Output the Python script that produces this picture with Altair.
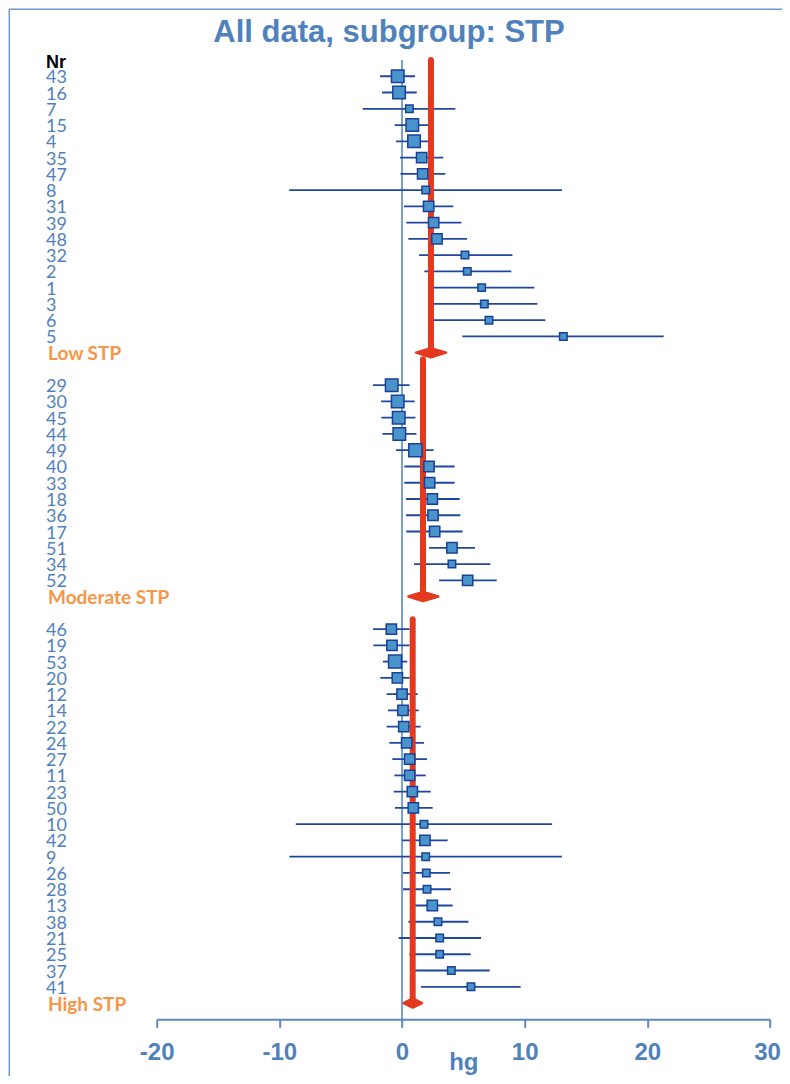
import altair as alt
import pandas as pd

# ---------------- data ----------------
title_text = "All data, subgroup: STP"
x_title = "hg"
header_text = "Nr"
group_names = ["Low STP", "Moderate STP", "High STP"]
x_ticks = [-20, -10, 0, 10, 20, 30]

low_nr = [43, 16, 7, 15, 4, 35, 47, 8, 31, 39, 48, 32, 2, 1, 3, 6, 5]
low_est = [-0.35, -0.24, 0.60, 0.84, 0.98, 1.60, 1.68, 1.93, 2.17, 2.58, 2.85, 5.13, 5.32, 6.49, 6.71, 7.09, 13.15]
low_lo = [-1.79, -1.63, -3.20, -0.60, -0.49, -0.16, -0.13, -9.20, 0.16, 0.35, 0.52, 1.39, 1.82, 2.19, 2.39, 2.50, 4.92]
low_hi = [1.06, 1.20, 4.35, 2.28, 2.45, 3.37, 3.53, 13.04, 4.18, 4.84, 5.30, 9.00, 8.91, 10.79, 11.03, 11.68, 21.33]
low_w = [2.8, 2.8, 1.0, 2.8, 2.8, 1.9, 1.9, 1.0, 1.9, 1.9, 1.9, 1.0, 1.0, 1.0, 1.0, 1.0, 1.0]

mod_nr = [29, 30, 45, 44, 49, 40, 33, 18, 36, 17, 51, 34, 52]
mod_est = [-0.84, -0.35, -0.27, -0.22, 1.09, 2.20, 2.25, 2.47, 2.53, 2.66, 4.07, 4.07, 5.35]
mod_lo = [-2.36, -1.71, -1.68, -1.60, -0.49, 0.19, 0.19, 0.33, 0.33, 0.35, 2.20, 0.98, 3.02]
mod_hi = [0.62, 1.03, 1.09, 1.17, 2.58, 4.29, 4.29, 4.70, 4.75, 4.94, 5.95, 7.20, 7.72]
mod_w = [2.8, 2.8, 2.8, 2.8, 3.1, 1.9, 1.9, 1.9, 1.9, 1.9, 1.9, 1.0, 1.9]

high_nr = [46, 19, 53, 20, 12, 14, 22, 24, 27, 11, 23, 50, 10, 42, 9, 26, 28, 13, 38, 21, 25, 37, 41]
high_est = [-0.87, -0.82, -0.57, -0.38, 0.00, 0.08, 0.14, 0.38, 0.62, 0.62, 0.84, 0.92, 1.79, 1.87, 1.93, 1.98, 2.04, 2.47, 2.93, 3.07, 3.07, 4.02, 5.62]
high_lo = [-2.36, -2.34, -1.55, -1.77, -1.25, -1.14, -1.25, -1.03, -0.79, -0.62, -0.68, -0.57, -8.66, 0.02, -9.18, 0.08, 0.08, 0.81, 0.52, -0.27, 0.60, 0.89, 1.55]
high_hi = [0.62, 0.62, 0.43, 0.62, 1.28, 1.36, 1.52, 1.79, 2.04, 1.93, 2.34, 2.50, 12.24, 3.72, 13.04, 3.91, 3.99, 4.13, 5.41, 6.44, 5.60, 7.15, 9.67]
high_w = [1.9, 1.9, 3.0, 1.9, 1.9, 1.9, 1.9, 1.9, 1.9, 1.9, 1.9, 1.9, 1.0, 1.9, 1.0, 1.0, 1.0, 1.9, 1.0, 1.0, 1.0, 1.0, 1.0]

pooled_est = [2.36, 1.71, 0.87]
pooled_lo = [1.14, 0.52, 0.14]
pooled_hi = [3.59, 2.96, 1.63]
pooled_line_top = [-1.0, 17.4, 33.4]

# ---------------- tables ----------------
groups = [
    (low_nr, low_est, low_lo, low_hi, low_w),
    (mod_nr, mod_est, mod_lo, mod_hi, mod_w),
    (high_nr, high_est, high_lo, high_hi, high_w),
]
studies, summaries, diamonds = [], [], []
r = 0
for gi, (nrs, est, lo, hi, w) in enumerate(groups):
    for n, e, l, h, ww in zip(nrs, est, lo, hi, w):
        studies.append(dict(nr=str(n), est=e, lo=l, hi=h, w=ww, row=r))
        r += 1
    summaries.append(dict(group=group_names[gi], est=pooled_est[gi], top=pooled_line_top[gi], row=r))
    half = 0.28
    diamonds += [
        dict(group=group_names[gi], x=pooled_lo[gi], y=r, y2=r),
        dict(group=group_names[gi], x=pooled_est[gi], y=r - half, y2=r + half),
        dict(group=group_names[gi], x=pooled_hi[gi], y=r, y2=r),
    ]
    r += 2

df = pd.DataFrame(studies)
ds = pd.DataFrame(summaries)
dd = pd.DataFrame(diamonds)
one = pd.DataFrame({"t": [title_text]})
hdr = pd.DataFrame({"t": [header_text], "row": [-1]})

# ---------------- styling ----------------
BLUE = "#4f81bd"
AXIS_BLUE = "#5b87c5"
CI = "#1f47a0"
BOX_FILL = "#4a94cc"
BOX_STROKE = "#1a3f96"
RED = "#e2391f"
ORANGE = "#f79646"

TOTAL_W = 774
TOTAL_H = 1068
PLOT_W = 613.3
PLOT_H = 959.3
LEFT = 148.7
TOP = 52.0

xs = alt.Scale(domain=[x_ticks[0], x_ticks[-1]], nice=False, zero=False)
ys = alt.Scale(domain=[-1, 58], nice=False, zero=False, reverse=True)

x_axis = alt.Axis(
    values=x_ticks, labelExpr="'' + datum.value", title=x_title, grid=False,
    domainColor=AXIS_BLUE, domainWidth=2, tickColor=AXIS_BLUE, tickWidth=2, tickSize=8,
    labelFont="Liberation Sans", labelFontWeight="bold", labelFontSize=24, labelColor=BLUE,
    labelPadding=13, labelFlush=False, labelOverlap=False,
    labelOffset={"condition": {"test": "datum.value === %d" % x_ticks[-1], "value": -3}, "value": 0},
    titleFont="Liberation Sans", titleFontWeight="bold", titleFontSize=24, titleColor=BLUE,
    titleBaseline="alphabetic", titleY=50,
)

base_y = alt.Y("row:Q", scale=ys, axis=None)

zero_line = alt.Chart(pd.DataFrame({"x": [0], "y": [-1], "y2": [58]})).mark_rule(
    color=BLUE, strokeWidth=1.5
).encode(x=alt.X("x:Q", scale=xs, axis=x_axis), y=alt.Y("y:Q", scale=ys, axis=None), y2="y2:Q")

ci = alt.Chart(df).mark_rule(color=CI, strokeWidth=1.8).encode(
    x=alt.X("lo:Q", scale=xs, axis=x_axis), x2="hi:Q", y=base_y
)

red_line = alt.Chart(ds).mark_rule(color=RED, strokeWidth=6, strokeCap="round").encode(
    x=alt.X("est:Q", scale=xs, axis=x_axis), y=alt.Y("top:Q", scale=ys, axis=None), y2="row:Q"
)

diamond = alt.Chart(dd).mark_area(
    color=RED, stroke=RED, strokeWidth=2.5, strokeJoin="round", opacity=1
).encode(
    x=alt.X("x:Q", scale=xs, axis=x_axis), y=alt.Y("y:Q", scale=ys, axis=None), y2="y2:Q",
    detail="group:N",
)

boxes = alt.Chart(df).mark_square(
    fill=BOX_FILL, stroke=BOX_STROKE, strokeWidth=1.5, opacity=1, fillOpacity=1
).encode(
    x=alt.X("est:Q", scale=xs, axis=x_axis), y=base_y,
    size=alt.Size("w:Q", scale=alt.Scale(domain=[0, 3], range=[0, 168]), legend=None),
)

row_labels = alt.Chart(df).mark_text(
    align="left", baseline="alphabetic", dy=7, font="Lato", fontSize=18, color=BLUE
).encode(x=alt.value(46 - 156.7), y=base_y, text="nr:N")

group_labels = alt.Chart(ds).mark_text(
    align="left", baseline="alphabetic", dy=7.5, font="Lato", fontSize=19,
    fontWeight="bold", color=ORANGE
).encode(x=alt.value(48 - 156.7), y=base_y, text="group:N")

header = alt.Chart(hdr).mark_text(
    align="left", baseline="alphabetic", dy=8.3, font="Liberation Sans", fontSize=18,
    fontWeight="bold", color="black"
).encode(x=alt.value(46 - 156.7), y=base_y, text="t:N")

title = alt.Chart(one).mark_text(
    align="center", baseline="alphabetic", font="Liberation Sans", fontSize=31,
    fontWeight="bold", color=BLUE
).encode(x=alt.value(389 - 156.7), y=alt.value(42 - 60), text="t:N")

frame_top = alt.Chart(one).mark_rule(color="#6f95cc", strokeWidth=1.5).encode(
    x=alt.value(9.3 - 156.7), x2=alt.value(PLOT_W + 40), y=alt.value(9.3 - 60)
)
frame_left = alt.Chart(one).mark_rule(color="#6f95cc", strokeWidth=1.5).encode(
    x=alt.value(9.3 - 156.7), y=alt.value(9.3 - 60), y2=alt.value(PLOT_H + 80)
)

chart = alt.layer(
    frame_top, frame_left, zero_line, ci, red_line, diamond, boxes,
    row_labels, group_labels, header, title,
).properties(
    width=PLOT_W, height=PLOT_H,
    autosize=alt.AutoSizeParams(type="none"),
    padding={"left": LEFT, "top": TOP, "right": TOTAL_W - LEFT - PLOT_W,
             "bottom": TOTAL_H - TOP - PLOT_H},
).configure_view(stroke="transparent")

chart.save("out.html", embed_options={"renderer": "svg", "actions": False})
